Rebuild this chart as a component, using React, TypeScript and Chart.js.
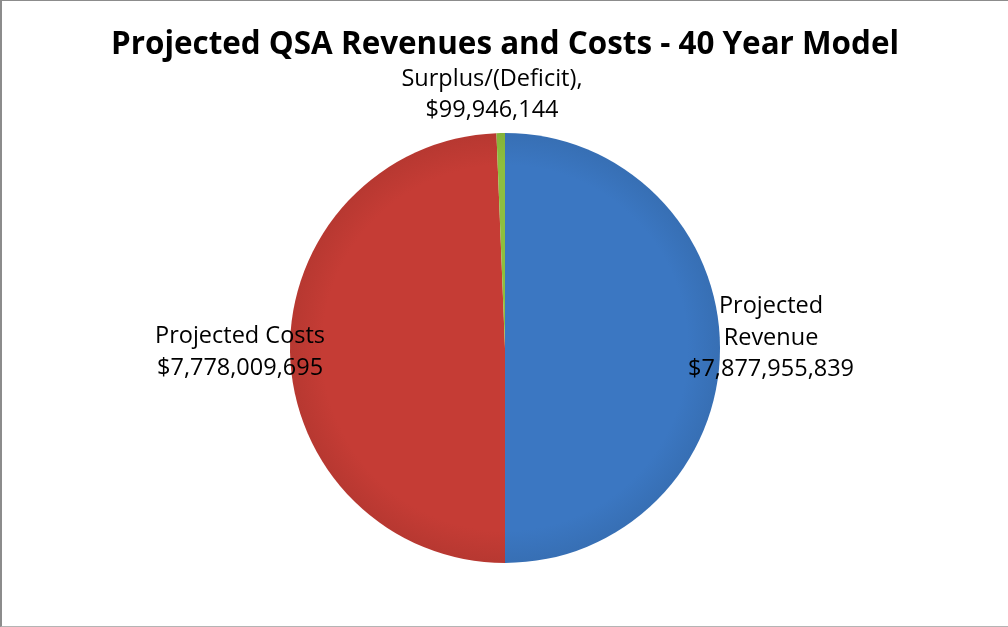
import React, { useEffect, useRef } from 'react';
import { Chart, registerables } from 'chart.js';

Chart.register(...registerables);

const TITLE = 'Projected QSA Revenues and Costs - 40 Year Model';
const categories = ['Projected Revenue', 'Projected Costs', 'Surplus/(Deficit)'];
const values = [7877955839, 7778009695, 99946144];
const labelNameLines = [['Projected', 'Revenue'], ['Projected Costs'], ['Surplus/(Deficit),']];
const colors = ['#3b77c2', '#c53c35', '#8dbf3e'];

// label placement (style constants): gap beyond the pie edge, and small nudges
const LABEL_GAP = [51, 50, 38];
const LABEL_NUDGE = [[0, -10], [0, -1], [-8, 0]];
const LABEL_FONT = '23.5px "Open Sans"';
const LABEL_LINE_H = 31.5;

function shade(hex: string, f: number): string {
  const n = parseInt(hex.slice(1), 16);
  const r = Math.round(((n >> 16) & 255) * f);
  const g = Math.round(((n >> 8) & 255) * f);
  const b = Math.round((n & 255) * f);
  return `rgb(${r},${g},${b})`;
}

const sliceLabels = {
  id: 'sliceLabels',
  afterDatasetsDraw(chart: any) {
    const ctx = chart.ctx;
    const meta = chart.getDatasetMeta(0);
    ctx.save();
    ctx.font = LABEL_FONT;
    ctx.fillStyle = '#000';
    ctx.textAlign = 'center';
    ctx.textBaseline = 'middle';
    meta.data.forEach((arc: any, i: number) => {
      const { x, y, startAngle, endAngle, outerRadius } = arc.getProps(
        ['x', 'y', 'startAngle', 'endAngle', 'outerRadius'],
        true
      );
      const mid = (startAngle + endAngle) / 2;
      const d = outerRadius + LABEL_GAP[i];
      const cx = x + Math.cos(mid) * d + LABEL_NUDGE[i][0];
      const cy = y + Math.sin(mid) * d + LABEL_NUDGE[i][1];
      const lines = [...labelNameLines[i], '$' + values[i].toLocaleString('en-US')];
      lines.forEach((t, j) => {
        ctx.fillText(t, cx, cy + (j - (lines.length - 1) / 2) * LABEL_LINE_H);
      });
    });
    ctx.restore();
  },
};

export default function App() {
  const ref = useRef<HTMLCanvasElement | null>(null);

  useEffect(() => {
    if (!ref.current) return;
    const chart = new Chart(ref.current, {
      type: 'pie',
      data: {
        labels: categories,
        datasets: [
          {
            data: values,
            borderWidth: 0,
            backgroundColor: (c: any) => {
              const base = colors[c.dataIndex % colors.length];
              const area = c.chart.chartArea;
              if (!area) return base;
              const cx = (area.left + area.right) / 2;
              const cy = (area.top + area.bottom) / 2;
              const r = Math.min(area.right - area.left, area.bottom - area.top) / 2;
              const g = c.chart.ctx.createRadialGradient(cx, cy, 0, cx, cy, r);
              g.addColorStop(0, base);
              g.addColorStop(0.85, base);
              g.addColorStop(1, shade(base, 0.93));
              return g;
            },
          },
        ],
      },
      options: {
        responsive: false,
        animation: false,
        devicePixelRatio: 1,
        rotation: 0,
        layout: { padding: { left: 2, right: 0, top: 0, bottom: 64 } },
        plugins: {
          legend: { display: false },
          tooltip: { enabled: false },
          title: {
            display: true,
            text: TITLE,
            color: '#000',
            font: { family: '"Open Sans"', size: 31.4, weight: 'bold' },
            padding: { top: 26.2, bottom: 69.1 },
          },
        },
      },
      plugins: [sliceLabels],
    });
    return () => chart.destroy();
  }, []);

  return (
    <div style={{ position: 'fixed', left: 0, top: 0, width: 1008, height: 627, background: '#fff' }}>
      <canvas ref={ref} width={1008} height={627} style={{ display: 'block' }} />
      <div
        style={{
          position: 'absolute',
          left: 0,
          top: 0,
          width: 1008,
          height: 627,
          boxSizing: 'border-box',
          borderTop: '1px solid #8c8c8c',
          borderLeft: '2px solid #8c8c8c',
          borderBottom: '1px solid #b4b4b4',
          pointerEvents: 'none',
        }}
      />
    </div>
  );
}
